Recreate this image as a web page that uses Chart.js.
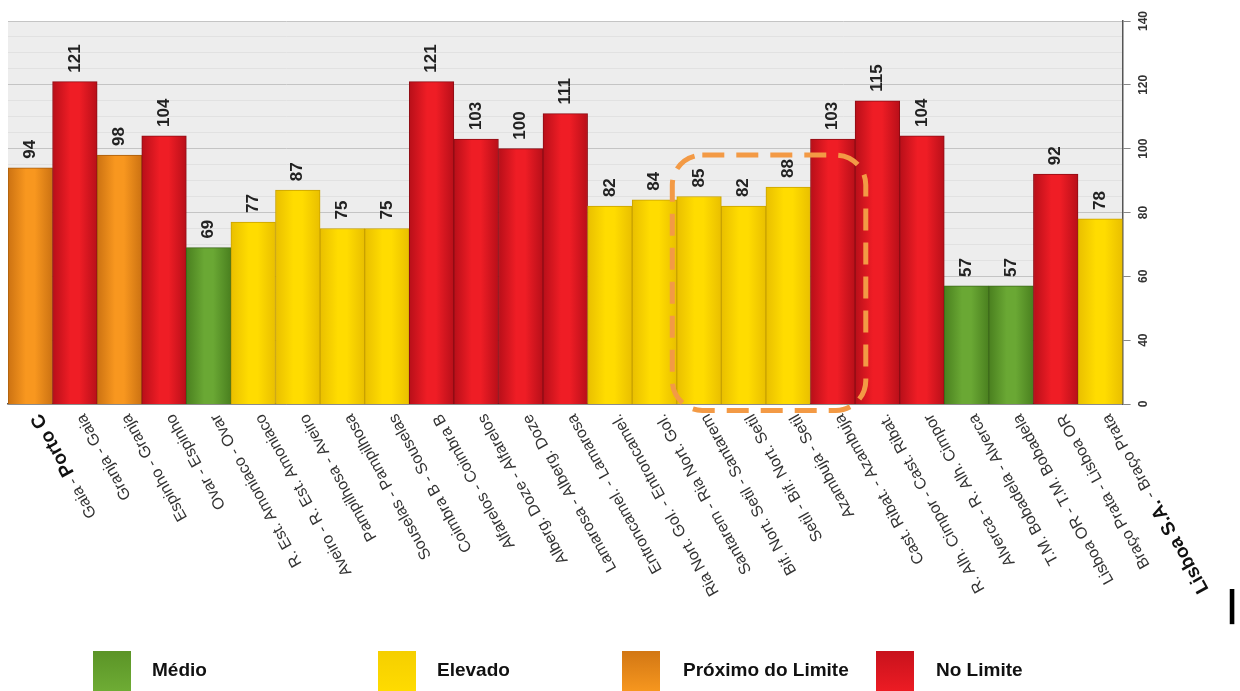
<!DOCTYPE html>
<html><head><meta charset="utf-8">
<script src="https://cdn.jsdelivr.net/npm/chart.js@4/dist/chart.umd.min.js"></script>
<style>
html,body{margin:0;padding:0;background:#fff;}
#wrap{position:relative;width:1240px;height:691px;overflow:hidden;}
#c{position:absolute;left:0;top:0;}
.lg{position:absolute;top:651px;width:38px;height:42px;}
.lt{position:absolute;top:658px;font:bold 19px "Liberation Sans",Arial,sans-serif;color:#111;line-height:24px;white-space:nowrap;}
#bar{position:absolute;left:1227px;top:584px;font:bold 36px "Liberation Sans",Arial,sans-serif;color:#000;line-height:40px;}
</style></head><body>
<div id="wrap">
<canvas id="c" width="1240" height="691"></canvas>
<div class="lg" style="left:93px;background:linear-gradient(#5b9427,#6fad35)"></div><div class="lt" style="left:152px">Médio</div>
<div class="lg" style="left:378px;background:linear-gradient(#f5cf00,#ffdc00)"></div><div class="lt" style="left:437px">Elevado</div>
<div class="lg" style="left:622px;background:linear-gradient(#d27714,#f8981f)"></div><div class="lt" style="left:683px">Próximo do Limite</div>
<div class="lg" style="left:876px;background:linear-gradient(#c8121c,#ee1c24)"></div><div class="lt" style="left:936px">No Limite</div>
<div id="bar">|</div>
</div>
<script>
// ---- data ----
const fromStations = ['Gaia','Granja','Espinho','Ovar','R. Est. Amoniaco','Aveiro','Pampilhosa','Souselas','Coimbra B','Alfarelos','Alberg. Doze','Lamarosa','Entroncamel.','Ria Nort. Gol.','Santarem','Bif. Nort. Setil','Setil','Azambuja','Cast. Ribat.','R. Alh. Cimpor','Alverca','T.M. Bobadela','Lisboa OR','Braço Prata','Lisboa S.A.'];
const toStations = ['Porto C','Gaia','Granja','Espinho','Ovar','R. Est. Amoniaco','Aveiro','Pampilhosa','Souselas','Coimbra B','Alfarelos','Alberg. Doze','Lamarosa','Entroncamel.','Ria Nort. Gol.','Santarem','Bif. Nort. Setil','Setil','Azambuja','Cast. Ribat.','R. Alh. Cimpor','Alverca','T.M. Bobadela','Lisboa OR','Braço Prata'];
const boldStations = ['Porto C','Lisboa S.A.'];
const categories = fromStations.map((f, i) => f + ' - ' + toStations[i]);
const values = [94,121,98,104,69,77,87,75,75,121,103,100,111,82,84,85,82,88,103,115,104,57,57,92,78];
const levels = ['Próximo do Limite','No Limite','Próximo do Limite','No Limite','Médio','Elevado','Elevado','Elevado','Elevado','No Limite','No Limite','No Limite','No Limite','Elevado','Elevado','Elevado','Elevado','Elevado','No Limite','No Limite','No Limite','Médio','Médio','No Limite','Elevado'];
const yTickValues = [20,40,60,80,100,120,140];
const yTickLabels = ['0','40','60','80','100','120','140'];
// highlighted group (dashed box): category index range and value range
const highlightFrom = 14, highlightTo = 18;
const highlightTop = 98, highlightBottom = 18;

// ---- styles ----
const levelColors = {
  'Médio': {edge:'#4a801f', mid:'#6aa834', line:'#3d6a1a'},
  'Elevado': {edge:'#e9bf00', mid:'#ffdc00', line:'#c9a200'},
  'Próximo do Limite': {edge:'#cc7212', mid:'#f8971f', line:'#a85c0c'},
  'No Limite': {edge:'#b80f19', mid:'#ef1d25', line:'#8e0c14'}
};
const REG_FONT = '16px "Liberation Sans", Arial, sans-serif';
const BOLD_FONT = 'bold 19px "Liberation Sans", Arial, sans-serif';
const LABEL_ANGLE = 61;

function barFill(ctx) {
  const chart = ctx.chart, xs = chart.scales.x;
  const c = levelColors[levels[ctx.dataIndex]];
  if (!xs || !chart.chartArea) return c.mid;
  const cx = xs.getPixelForValue(ctx.dataIndex);
  const half = (xs.getPixelForValue(1) - xs.getPixelForValue(0)) / 2;
  const g = chart.ctx.createLinearGradient(cx - half, 0, cx + half, 0);
  g.addColorStop(0, c.edge); g.addColorStop(0.4, c.mid); g.addColorStop(0.6, c.mid); g.addColorStop(1, c.edge);
  return g;
}

const bgPlugin = {
  id: 'plotbg',
  beforeDraw(chart) {
    const {ctx, chartArea: a} = chart;
    ctx.save(); ctx.fillStyle = '#ededed';
    ctx.fillRect(a.left, a.top, a.right - a.left, a.bottom - a.top);
    ctx.restore();
  }
};

const valuePlugin = {
  id: 'values',
  afterDatasetsDraw(chart) {
    const ctx = chart.ctx;
    const meta = chart.getDatasetMeta(0);
    ctx.save();
    ctx.fillStyle = '#222';
    ctx.font = 'bold 17px "Liberation Sans", Arial, sans-serif';
    meta.data.forEach((bar, i) => {
      ctx.save();
      ctx.translate(bar.x, bar.y - 9);
      ctx.rotate(-Math.PI / 2);
      ctx.textAlign = 'left'; ctx.textBaseline = 'middle';
      ctx.fillText(String(values[i]), 0, 0);
      ctx.restore();
    });
    ctx.restore();
  }
};

const xLabelPlugin = {
  id: 'xlabels',
  afterDraw(chart) {
    const ctx = chart.ctx, xs = chart.scales.x, ys = chart.scales.y;
    const y0 = chart.chartArea.bottom + 11;
    ctx.save();
    categories.forEach((_, i) => {
      const x = xs.getPixelForValue(i) + 6;
      const parts = [[fromStations[i], boldStations.includes(fromStations[i])], [' - ', false], [toStations[i], boldStations.includes(toStations[i])]];
      ctx.save();
      ctx.translate(x, y0);
      ctx.rotate(-(180 - LABEL_ANGLE) * Math.PI / 180);
      ctx.textBaseline = 'middle'; ctx.textAlign = 'left';
      let cur = 0;
      for (let k = parts.length - 1; k >= 0; k--) {
        ctx.font = parts[k][1] ? BOLD_FONT : REG_FONT;
        ctx.fillStyle = parts[k][1] ? '#111' : '#333';
        const w = ctx.measureText(parts[k][0]).width;
        cur -= w;
        ctx.fillText(parts[k][0], cur, 0);
      }
      ctx.restore();
    });
    // dashed highlight box
    const step = xs.getPixelForValue(1) - xs.getPixelForValue(0);
    const left = xs.getPixelForValue(highlightFrom) + step * 0.4;
    const right = xs.getPixelForValue(highlightTo) + step * 0.74;
    const top = ys.getPixelForValue(highlightTop);
    const bottom = ys.getPixelForValue(highlightBottom);
    ctx.strokeStyle = '#f39a45';
    ctx.lineWidth = 5;
    ctx.setLineDash([22, 12]);
    ctx.beginPath();
    ctx.roundRect(left, top, right - left, bottom - top, 30);
    ctx.stroke();
    ctx.restore();
  }
};

new Chart(document.getElementById('c'), {
  type: 'bar',
  data: {
    labels: categories,
    datasets: [{
      data: values,
      backgroundColor: barFill,
      borderColor: (ctx) => levelColors[levels[ctx.dataIndex]].line,
      borderWidth: 1,
      categoryPercentage: 1,
      barPercentage: 1
    }]
  },
  options: {
    responsive: false,
    animation: false,
    layout: {padding: {left: 8, top: 21, right: 89, bottom: 287}},
    plugins: {legend: {display: false}, tooltip: {enabled: false}},
    scales: {
      x: {
        type: 'category',
        offset: true,
        grid: {display: false, drawTicks: false},
        ticks: {display: false},
        border: {display: true, color: '#555', width: 1.5}
      },
      y: {
        position: 'right',
        min: 20, max: 140,
        ticks: {
          stepSize: 5,
          autoSkip: false,
          minRotation: 90, maxRotation: 90,
          crossAlign: 'center',
          padding: 3,
          color: '#333',
          font: {family: '"Liberation Sans", Arial, sans-serif', size: 12, weight: 'bold'},
          callback: (v) => { const k = yTickValues.indexOf(v); return k >= 0 ? yTickLabels[k] : ''; }
        },
        grid: {
          color: (ctx) => (ctx.tick && ctx.tick.value % 20 === 0) ? '#c4c4c4' : '#e1e1e1',
          tickColor: (ctx) => (ctx.tick && ctx.tick.value % 20 === 0) ? '#888' : 'rgba(0,0,0,0)',
          tickLength: 8
        },
        border: {display: true, color: '#555', width: 1.5}
      }
    }
  },
  plugins: [bgPlugin, valuePlugin, xLabelPlugin]
});
</script>
</body></html>
